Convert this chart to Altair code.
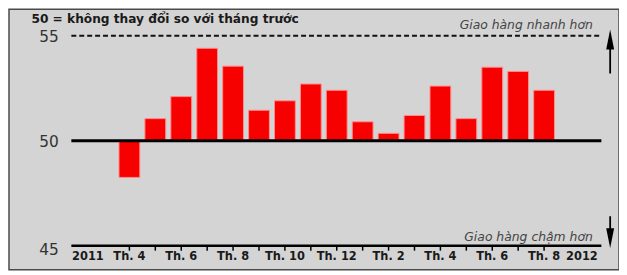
import altair as alt
import pandas as pd

# ---- data ----
bar_pos = list(range(17))
bar_months = ["Th. 4", "Th. 5", "Th. 6", "Th. 7", "Th. 8", "Th. 9", "Th. 10", "Th. 11", "Th. 12",
              "Th. 1", "Th. 2", "Th. 3", "Th. 4", "Th. 5", "Th. 6", "Th. 7", "Th. 8"]
bar_values = [48.25, 51.05, 52.1, 54.4, 53.55, 51.45, 51.9, 52.7, 52.4,
              50.9, 50.35, 51.2, 52.6, 51.05, 53.5, 53.3, 52.4]

x_labels = ["2011", "Th. 4", "Th. 6", "Th. 8", "Th. 10", "Th. 12", "Th. 2", "Th. 4", "Th. 6", "Th. 8", "2012"]
x_label_pos = [-1.6, 0, 2, 4, 6, 8, 10, 12, 14, 16, 17.46]

y_labels = ["55", "50", "45"]
y_label_pos = [54.92, 49.93, 44.8]

baseline_value = 50
title_text = "50 = không thay đổi so với tháng trước"
faster_text = "Giao hàng nhanh hơn"
slower_text = "Giao hàng chậm hơn"

# ---- scales (panel coordinates) ----
XMIN, XMAX = -4.455, 18.70
YMIN, YMAX = 43.853, 56.259
xs = alt.Scale(domain=[XMIN, XMAX], nice=False, zero=False)
ys = alt.Scale(domain=[YMIN, YMAX], nice=False, zero=False)

LINE_X0, LINE_X1 = -2.24, 18.21
FONT = "DejaVu Sans"

def X(f="x"):
    return alt.X(f"{f}:Q", scale=xs, axis=None)

def Y(f="y"):
    return alt.Y(f"{f}:Q", scale=ys, axis=None)

bars_df = pd.DataFrame({"x": bar_pos, "y": bar_values, "month": bar_months})
bars_df["y0"] = baseline_value

bars = alt.Chart(bars_df).mark_bar(size=21, color="#f70000", stroke="#ff8c8c", strokeWidth=1).encode(
    x=X(), y=Y(), y2="y0:Q")

lines_df = pd.DataFrame({"x": [LINE_X0], "x2": [LINE_X1], "y55": [55], "y50": [50], "y45": [45]})
dashed = alt.Chart(lines_df).mark_rule(color="#111", strokeWidth=2, strokeDash=[5, 3]).encode(
    x=X(), x2="x2:Q", y=Y("y55"))
line50 = alt.Chart(lines_df).mark_rule(color="#000", strokeWidth=3).encode(
    x=X(), x2="x2:Q", y=Y("y50"))
line45 = alt.Chart(lines_df).mark_rule(color="#000", strokeWidth=2.5).encode(
    x=X(), x2="x2:Q", y=Y("y45"))

ticks_df = pd.DataFrame({"x": bar_pos})
ticks_df["y"] = 45
ticks_df["y2"] = 44.76
ticks = alt.Chart(ticks_df).mark_rule(color="#000", strokeWidth=1.5).encode(
    x=X(), y=Y(), y2="y2:Q")

xlab_df = pd.DataFrame({"x": x_label_pos, "label": x_labels})
xlab_df["y"] = 44.46
xlab = alt.Chart(xlab_df).mark_text(font=FONT, fontSize=11.5, fontWeight="bold", color="#1a1a1a",
                                    baseline="middle", align="center").encode(
    x=X(), y=Y(), text="label:N")

ylab_df = pd.DataFrame({"y": y_label_pos, "label": y_labels})
ylab_df["x"] = -2.73
ylab = alt.Chart(ylab_df).mark_text(font=FONT, fontSize=15.5, color="#333", baseline="middle",
                                    align="right").encode(x=X(), y=Y(), text="label:N")

title_df = pd.DataFrame({"x": [-3.78], "y": [55.8], "label": [title_text]})
title = alt.Chart(title_df).mark_text(font=FONT, fontSize=12.3, fontWeight="bold", color="#1a1a1a",
                                      align="left", baseline="middle").encode(x=X(), y=Y(), text="label:N")

ann_df = pd.DataFrame({"x": [17.88, 17.88], "y": [55.52, 45.40], "label": [faster_text, slower_text]})
ann = alt.Chart(ann_df).mark_text(font=FONT, fontSize=12.5, fontStyle="italic", color="#444",
                                  align="right", baseline="middle").encode(x=X(), y=Y(), text="label:N")

arrow_df = pd.DataFrame({"x": [18.55, 18.55], "y": [53.2, 46.4], "y2": [54.8, 45.4]})
stems = alt.Chart(arrow_df).mark_rule(color="#000", strokeWidth=1.8).encode(x=X(), y=Y(), y2="y2:Q")

up_df = pd.DataFrame({"x": [18.55], "y": [54.82]})
down_df = pd.DataFrame({"x": [18.55], "y": [45.36]})
up_head = alt.Chart(up_df).mark_point(shape="M0,-1L0.4,1L-0.4,1Z", size=400, filled=True,
                                      color="#000", opacity=1).encode(x=X(), y=Y())
down_head = alt.Chart(down_df).mark_point(shape="M0,1L0.4,-1L-0.4,-1Z", size=400, filled=True,
                                          color="#000", opacity=1).encode(x=X(), y=Y())

chart = alt.layer(bars, dashed, line50, line45, ticks, xlab, ylab, title, ann, stems, up_head, down_head
                  ).properties(width=616, height=263, padding={"left": 1, "top": 0, "right": 0, "bottom": 0},
                               background="white"
                  ).configure_view(fill="#d4d4d4", stroke="#4a4a4a", strokeWidth=1.5)

chart.save("out.html", embed_options={"renderer": "svg", "actions": False})
